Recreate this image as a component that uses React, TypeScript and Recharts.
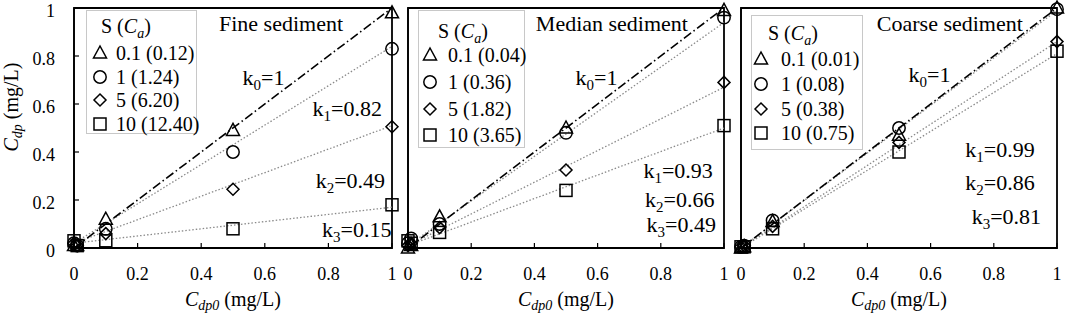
import type { FC } from 'react'
import { ComposedChart, Scatter, XAxis, YAxis, ReferenceLine, ReferenceArea, ReferenceDot, Legend, Label } from 'recharts'

const FONT = "'Liberation Serif', 'DejaVu Serif', 'Times New Roman', Times, serif"

// Cdp0 (mg/L) used in every run
const cdp0 = [0, 0.01, 0.1, 0.5, 1]
const axisTicks = [0, 0.2, 0.4, 0.6, 0.8, 1]
const sLevels = ['0.1', '1', '5', '10']

// fine sediment
const fineTitle = 'Fine sediment'
const fineCa = ['0.12', '1.24', '6.20', '12.40']
const fineS01 = [0.01, 0.01, 0.12, 0.49, 0.98]
const fineS1 = [0.02, 0.01, 0.08, 0.4, 0.83]
const fineS5 = [0.02, 0.01, 0.06, 0.245, 0.505]
const fineS10 = [0.03, 0.01, 0.03, 0.08, 0.18]
const fineK = ['0.82', '0.49', '0.15']
const fineOffset = 0.02

// median sediment
const medianTitle = 'Median sediment'
const medianCa = ['0.04', '0.36', '1.82', '3.65']
const medianS01 = [0, 0.01, 0.13, 0.5, 0.99]
const medianS1 = [0.02, 0.04, 0.1, 0.48, 0.96]
const medianS5 = [0.01, 0.02, 0.085, 0.325, 0.69]
const medianS10 = [0.03, 0.02, 0.065, 0.24, 0.51]
const medianK = ['0.93', '0.66', '0.49']
const medianOffset = 0.01

// coarse sediment
const coarseTitle = 'Coarse sediment'
const coarseCa = ['0.01', '0.08', '0.38', '0.75']
const coarseS01 = [0, 0.005, 0.11, 0.47, 1]
const coarseS1 = [0.005, 0.01, 0.115, 0.5, 0.995]
const coarseS5 = [0.005, 0.01, 0.09, 0.44, 0.86]
const coarseS10 = [0.005, 0.005, 0.08, 0.4, 0.82]
const coarseK = ['0.99', '0.86', '0.81']
const coarseOffset = 0.0

type Pt = { x: number; y: number }
const toPoints = (ys: number[]): Pt[] => ys.map((y, i) => ({ x: cdp0[i], y }))

const SW = 1.5

const Tri = ({ cx, cy }: any) => (
  <polygon points={`${cx},${cy - 7} ${cx - 6.5},${cy + 5} ${cx + 6.5},${cy + 5}`} fill="none" stroke="#000" strokeWidth={SW} />
)
const Circ = ({ cx, cy }: any) => <circle cx={cx} cy={cy} r={6.2} fill="none" stroke="#000" strokeWidth={SW} />
const Diam = ({ cx, cy }: any) => (
  <polygon points={`${cx},${cy - 6} ${cx + 6},${cy} ${cx},${cy + 6} ${cx - 6},${cy}`} fill="none" stroke="#000" strokeWidth={SW} />
)
const Sq = ({ cx, cy }: any) => <rect x={cx - 6} y={cy - 6} width={12} height={12} fill="none" stroke="#000" strokeWidth={SW} />

const shapes = [Tri, Circ, Diam, Sq]

interface PanelLayout {
  left: number
  width: number
  yAxisWidth: number
  showYLabels: boolean
  legend: { left: number; top: number; width: number; height: number; titleLeft: number; titleY: number; rows: number[]; markerX: number; textX: number }
  titleEnd: number
  kPos: { x: number; y: number }[]
}

interface PanelData {
  title: string
  ca: string[]
  series: number[][]
  k: string[]
  offset: number
}

const panels: { data: PanelData; layout: PanelLayout }[] = [
  {
    data: { title: fineTitle, ca: fineCa, series: [fineS01, fineS1, fineS5, fineS10], k: fineK, offset: fineOffset },
    layout: {
      left: 0, width: 400, yAxisWidth: 74, showYLabels: true,
      legend: { left: 86, top: 10, width: 111, height: 124, titleLeft: 14, titleY: 15, rows: [42, 65.5, 89, 112.5], markerX: 13, textX: 29 },
      titleEnd: 0.846,
      kPos: [{ x: 0.53, y: 0.68 }, { x: 0.75, y: 0.55 }, { x: 0.76, y: 0.25 }, { x: 0.78, y: 0.045 }],
    },
  },
  {
    data: { title: medianTitle, ca: medianCa, series: [medianS01, medianS1, medianS5, medianS10], k: medianK, offset: medianOffset },
    layout: {
      left: 400, width: 332, yAxisWidth: 8, showYLabels: false,
      legend: { left: 18, top: 10, width: 107, height: 138, titleLeft: 19, titleY: 20, rows: [44, 71, 98, 124], markerX: 11, textX: 29 },
      titleEnd: 0.886,
      kPos: [{ x: 0.53, y: 0.68 }, { x: 0.745, y: 0.29 }, { x: 0.75, y: 0.17 }, { x: 0.755, y: 0.065 }],
    },
  },
  {
    data: { title: coarseTitle, ca: coarseCa, series: [coarseS01, coarseS1, coarseS5, coarseS10], k: coarseK, offset: coarseOffset },
    layout: {
      left: 733, width: 332, yAxisWidth: 8, showYLabels: false,
      legend: { left: 18, top: 15, width: 112, height: 135, titleLeft: 16, titleY: 17, rows: [43, 68, 93, 117], markerX: 9, textX: 29 },
      titleEnd: 0.892,
      kPos: [{ x: 0.53, y: 0.69 }, { x: 0.71, y: 0.38 }, { x: 0.71, y: 0.24 }, { x: 0.73, y: 0.1 }],
    },
  },
]

const LegendBox: FC<{ data: PanelData; layout: PanelLayout }> = ({ data, layout }) => {
  const lg = layout.legend
  return (
    <div style={{ position: 'relative', width: lg.width, height: lg.height, border: '1px solid #c8c8c8', boxSizing: 'border-box', background: '#fff', fontFamily: FONT, fontSize: 20, color: '#000' }}>
      <div style={{ position: 'absolute', left: lg.titleLeft, top: lg.titleY - 10, lineHeight: '20px', whiteSpace: 'nowrap' }}>
        S (<i>C<sub style={{ fontSize: 14, lineHeight: 0 }}>a</sub></i>)
      </div>
      {sLevels.map((s, i) => {
        const Shape = shapes[i]
        return (
          <div key={s} style={{ position: 'absolute', left: 0, top: lg.rows[i] - 10, height: 20, width: '100%' }}>
            <svg width={20} height={20} style={{ position: 'absolute', left: lg.markerX - 10, top: 0 }}>
              <Shape cx={10} cy={10} />
            </svg>
            <span style={{ position: 'absolute', left: lg.textX, top: 0, lineHeight: '20px', whiteSpace: 'nowrap' }}>
              {s} ({data.ca[i]})
            </span>
          </div>
        )
      })}
    </div>
  )
}

const KText = ({ cx, cy, idx, value }: any) => (
  <text x={cx} y={cy} style={{ fontFamily: FONT }} fontSize={22} fill="#000">
    k<tspan dy={5} fontSize={15}>{idx}</tspan>
    <tspan dy={-5}>={value}</tspan>
  </text>
)

const XTitle = ({ viewBox }: any) => (
  <text x={viewBox.x + viewBox.width / 2} y={viewBox.y + 58} textAnchor="middle" style={{ fontFamily: FONT }} fontSize={20} fill="#000">
    <tspan fontStyle="italic">C</tspan>
    <tspan fontStyle="italic" fontSize={14} dy={4}>dp0</tspan>
    <tspan dy={-4}> (mg/L)</tspan>
  </text>
)

const YTitle = ({ viewBox }: any) => {
  const x = viewBox.x + 18
  const y = 107
  return (
    <text x={x} y={y} transform={`rotate(-90, ${x}, ${y})`} textAnchor="middle" style={{ fontFamily: FONT }} fontSize={20} fill="#000">
      <tspan fontStyle="italic">C</tspan>
      <tspan fontStyle="italic" fontSize={14} dy={4}>dp</tspan>
      <tspan dy={-4}> (mg/L)</tspan>
    </text>
  )
}

const Panel: FC<{ data: PanelData; layout: PanelLayout }> = ({ data, layout }) => {
  const lg = layout.legend
  return (
    <div style={{ position: 'absolute', left: layout.left, top: 0, width: layout.width, height: 315, fontFamily: FONT }}>
      <ComposedChart width={layout.width} height={315} margin={{ top: 8, right: 8, bottom: 7, left: 0 }} style={{ fontFamily: FONT }}>
        <XAxis
          type="number"
          dataKey="x"
          domain={[0, 1]}
          ticks={axisTicks}
          tickSize={-5}
          tickMargin={24}
          height={60}
          stroke="#000"
          axisLine={{ stroke: '#000', strokeWidth: 1.5 }}
          tickLine={{ stroke: '#000', strokeWidth: 1.2 }}
          tick={{ fontSize: 18, fill: '#000', style: { fontFamily: FONT } }}
          interval={0}
        >
          <Label content={<XTitle />} />
        </XAxis>
        <YAxis
          type="number"
          dataKey="y"
          domain={[0, 1]}
          ticks={axisTicks}
          tickSize={-5}
          tickMargin={24}
          width={layout.yAxisWidth}
          stroke="#000"
          axisLine={{ stroke: '#000', strokeWidth: 1.5 }}
          tickLine={{ stroke: '#000', strokeWidth: 1.2 }}
          tick={layout.showYLabels ? { fontSize: 18, fill: '#000', dy: 3, style: { fontFamily: FONT } } : false}
          interval={0}
        >
          {layout.showYLabels && <Label content={<YTitle />} />}
        </YAxis>
        <ReferenceArea x1={0} x2={1} y1={0} y2={1} fill="none" stroke="#000" strokeWidth={1.8} />
        {data.k.map((k) => (
          <ReferenceLine
            key={k}
            segment={[{ x: 0, y: data.offset }, { x: 1, y: Number(k) + data.offset }]}
            stroke="#8a8a8a"
            strokeWidth={1.3}
            strokeDasharray="1.5 2"
            ifOverflow="hidden"
          />
        ))}
        <ReferenceLine
          segment={[{ x: 0, y: 0 }, { x: 1, y: 1 }]}
          stroke="#000"
          strokeWidth={1.6}
          strokeDasharray="9 3 1.5 3"
          ifOverflow="hidden"
        />
        {data.series.map((ys, i) => {
          const Shape = shapes[i]
          return (
            <Scatter
              key={sLevels[i]}
              name={sLevels[i]}
              data={toPoints(ys)}
              shape={(p: any) => <Shape cx={p.cx} cy={p.cy} />}
              isAnimationActive={false}
            />
          )
        })}
        <ReferenceDot
          x={layout.kPos[0].x}
          y={layout.kPos[0].y}
          r={0}
          shape={(p: any) => <KText cx={p.cx} cy={p.cy} idx={0} value="1" />}
        />
        {data.k.map((k, i) => (
          <ReferenceDot
            key={'k' + i}
            x={layout.kPos[i + 1].x}
            y={layout.kPos[i + 1].y}
            r={0}
            shape={(p: any) => <KText cx={p.cx} cy={p.cy} idx={i + 1} value={k} />}
          />
        ))}
        <ReferenceDot
          x={layout.titleEnd}
          y={0.904}
          r={0}
          shape={(p: any) => (
            <text x={p.cx} y={p.cy} textAnchor="end" style={{ fontFamily: FONT }} fontSize={22} fill="#000">{data.title}</text>
          )}
        />
        <Legend
          layout="horizontal"
          verticalAlign="middle"
          align="center"
          wrapperStyle={{ position: 'absolute', left: lg.left, top: lg.top, width: lg.width, height: lg.height }}
          content={() => <LegendBox data={data} layout={layout} />}
        />
      </ComposedChart>
    </div>
  )
}

export default function App() {
  return (
    <div style={{ position: 'absolute', left: 0, top: 0, width: 1065, height: 315, background: '#fff', overflow: 'hidden', fontFamily: FONT }}>
      {panels.map((p) => (
        <Panel key={p.data.title} data={p.data} layout={p.layout} />
      ))}
    </div>
  )
}
